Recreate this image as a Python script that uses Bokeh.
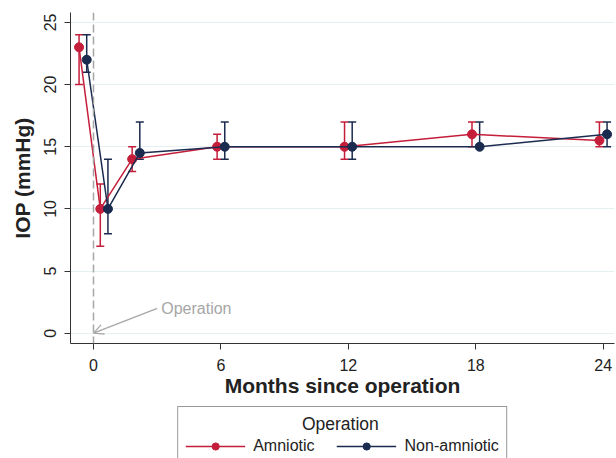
from bokeh.plotting import figure
from bokeh.layouts import column
from bokeh.models import (ColumnDataSource, Whisker, TeeHead, Span, Arrow, OpenHead,
                          Label, Legend, LegendItem, Range1d)
from bokeh.embed import file_html
from bokeh.resources import INLINE

# ---- data ----
months = [-0.5, 0.5, 2, 6, 12, 18, 24]
amn_mean = [23, 10, 14, 15, 15, 16, 15.5]
amn_low = [20, 7, 13, 14, 14, 15, 15]
amn_high = [24, 12, 15, 16, 17, 17, 17]
non_mean = [22, 10, 14.5, 15, 15, 15, 16]
non_low = [21, 8, 14, 14, 14, 15, 15]
non_high = [24, 14, 17, 17, 17, 17, 17]
x_ticks = [0, 6, 12, 18, 24]
y_ticks = [0, 5, 10, 15, 20, 25]
legend_title = "Operation"

RED = "#C41E3A"
NAVY = "#1B2B4F"
GRAY = "#A6A6A6"
FONT = "Liberation Sans"
dodge = 0.18

p = figure(width=616, height=405, output_backend="svg", toolbar_location=None,
           x_range=Range1d(-1.083, 24.53), y_range=Range1d(-0.83, 25.8),
           min_border_left=70, min_border_right=2, min_border_top=12,
           min_border_bottom=62)
p.outline_line_color = None
p.xgrid.visible = False
p.ygrid.grid_line_color = "#E6EFF2"
p.ygrid.grid_line_width = 1

p.xaxis.ticker = x_ticks
p.yaxis.ticker = y_ticks
for ax in (p.xaxis, p.yaxis):
    ax.axis_line_color = "#333333"
    ax.major_tick_line_color = "#333333"
    ax.minor_tick_line_color = None
    ax.major_tick_in = 0
    ax.major_tick_out = 6
    ax.major_label_text_font = FONT
    ax.major_label_text_font_size = "16px"
    ax.major_label_text_color = "#222222"
    ax.axis_label_text_font = FONT
    ax.axis_label_text_font_style = "bold"
    ax.axis_label_text_font_size = "21px"
    ax.axis_label_text_color = "#222222"
p.xaxis.axis_label = "Months since operation"
p.yaxis.axis_label = "IOP (mmHg)"
p.yaxis.major_label_orientation = "vertical"
p.xaxis.major_label_standoff = 9
p.xaxis.axis_label_standoff = 0
p.yaxis.major_label_standoff = 8
p.yaxis.axis_label_standoff = 8

p.add_layout(Span(location=0, dimension="height", line_color=GRAY,
                  line_dash="8 4", line_width=1.5))

# legend strip below the chart (own figure so the box can run off the bottom)
lg = figure(width=616, height=53, output_backend="svg", toolbar_location=None,
            x_range=Range1d(100, 101), y_range=Range1d(100, 101),
            x_axis_type=None, y_axis_type=None,
            min_border_left=70, min_border_right=2, min_border_top=0,
            min_border_bottom=0)
lg.outline_line_color = None

series = [
    ("Amniotic", amn_mean, amn_low, amn_high, RED, -dodge),
    ("Non-amniotic", non_mean, non_low, non_high, NAVY, dodge),
]
items = []
for name, mean, low, high, color, off in series:
    src = ColumnDataSource(dict(x=[m + off for m in months], y=mean,
                                low=low, high=high))
    p.add_layout(Whisker(base="x", lower="low", upper="high", source=src,
                         line_color=color, line_width=1.5,
                         upper_head=TeeHead(size=8, line_color=color, line_width=1.5),
                         lower_head=TeeHead(size=8, line_color=color, line_width=1.5)))
    p.line("x", "y", source=src, line_color=color, line_width=1.5)
    p.scatter("x", "y", source=src, size=9, fill_color=color, line_color=color)
    # same series in the legend strip (outside its view) to feed the legend glyphs
    lr = lg.line("x", "y", source=src, line_color=color, line_width=1.5)
    sr = lg.scatter("x", "y", source=src, size=9, fill_color=color, line_color=color)
    items.append(LegendItem(label=name, renderers=[lr, sr]))

p.add_layout(Arrow(end=OpenHead(size=10, line_color=GRAY, line_width=1.2),
                   x_start=3.0, y_start=2.0, x_end=0, y_end=0,
                   line_color=GRAY, line_width=1.2))
p.add_layout(Label(x=3.19, y=2.0, text="Operation", text_font=FONT,
                   text_font_size="16px", text_color=GRAY, text_baseline="middle"))

# Bokeh draws legend titles flush left; pad with no-break spaces to centre it
legend = Legend(items=items, orientation="horizontal", location="top_center",
                title="\u00a0" * 24 + legend_title,
                title_text_font=FONT, title_text_font_size="17.5px",
                title_text_font_style="normal", title_text_color="#222222",
                label_text_font=FONT, label_text_font_size="16px",
                label_text_color="#222222",
                border_line_color="#333333", border_line_width=1,
                background_fill_color="white", background_fill_alpha=1,
                glyph_width=60, glyph_height=18, label_height=18,
                label_standoff=8, spacing=22,
                padding=7, margin=1, title_standoff=2)
lg.add_layout(legend)

layout = column(p, lg, spacing=0)
open("out.html", "w").write(file_html(layout, INLINE))
